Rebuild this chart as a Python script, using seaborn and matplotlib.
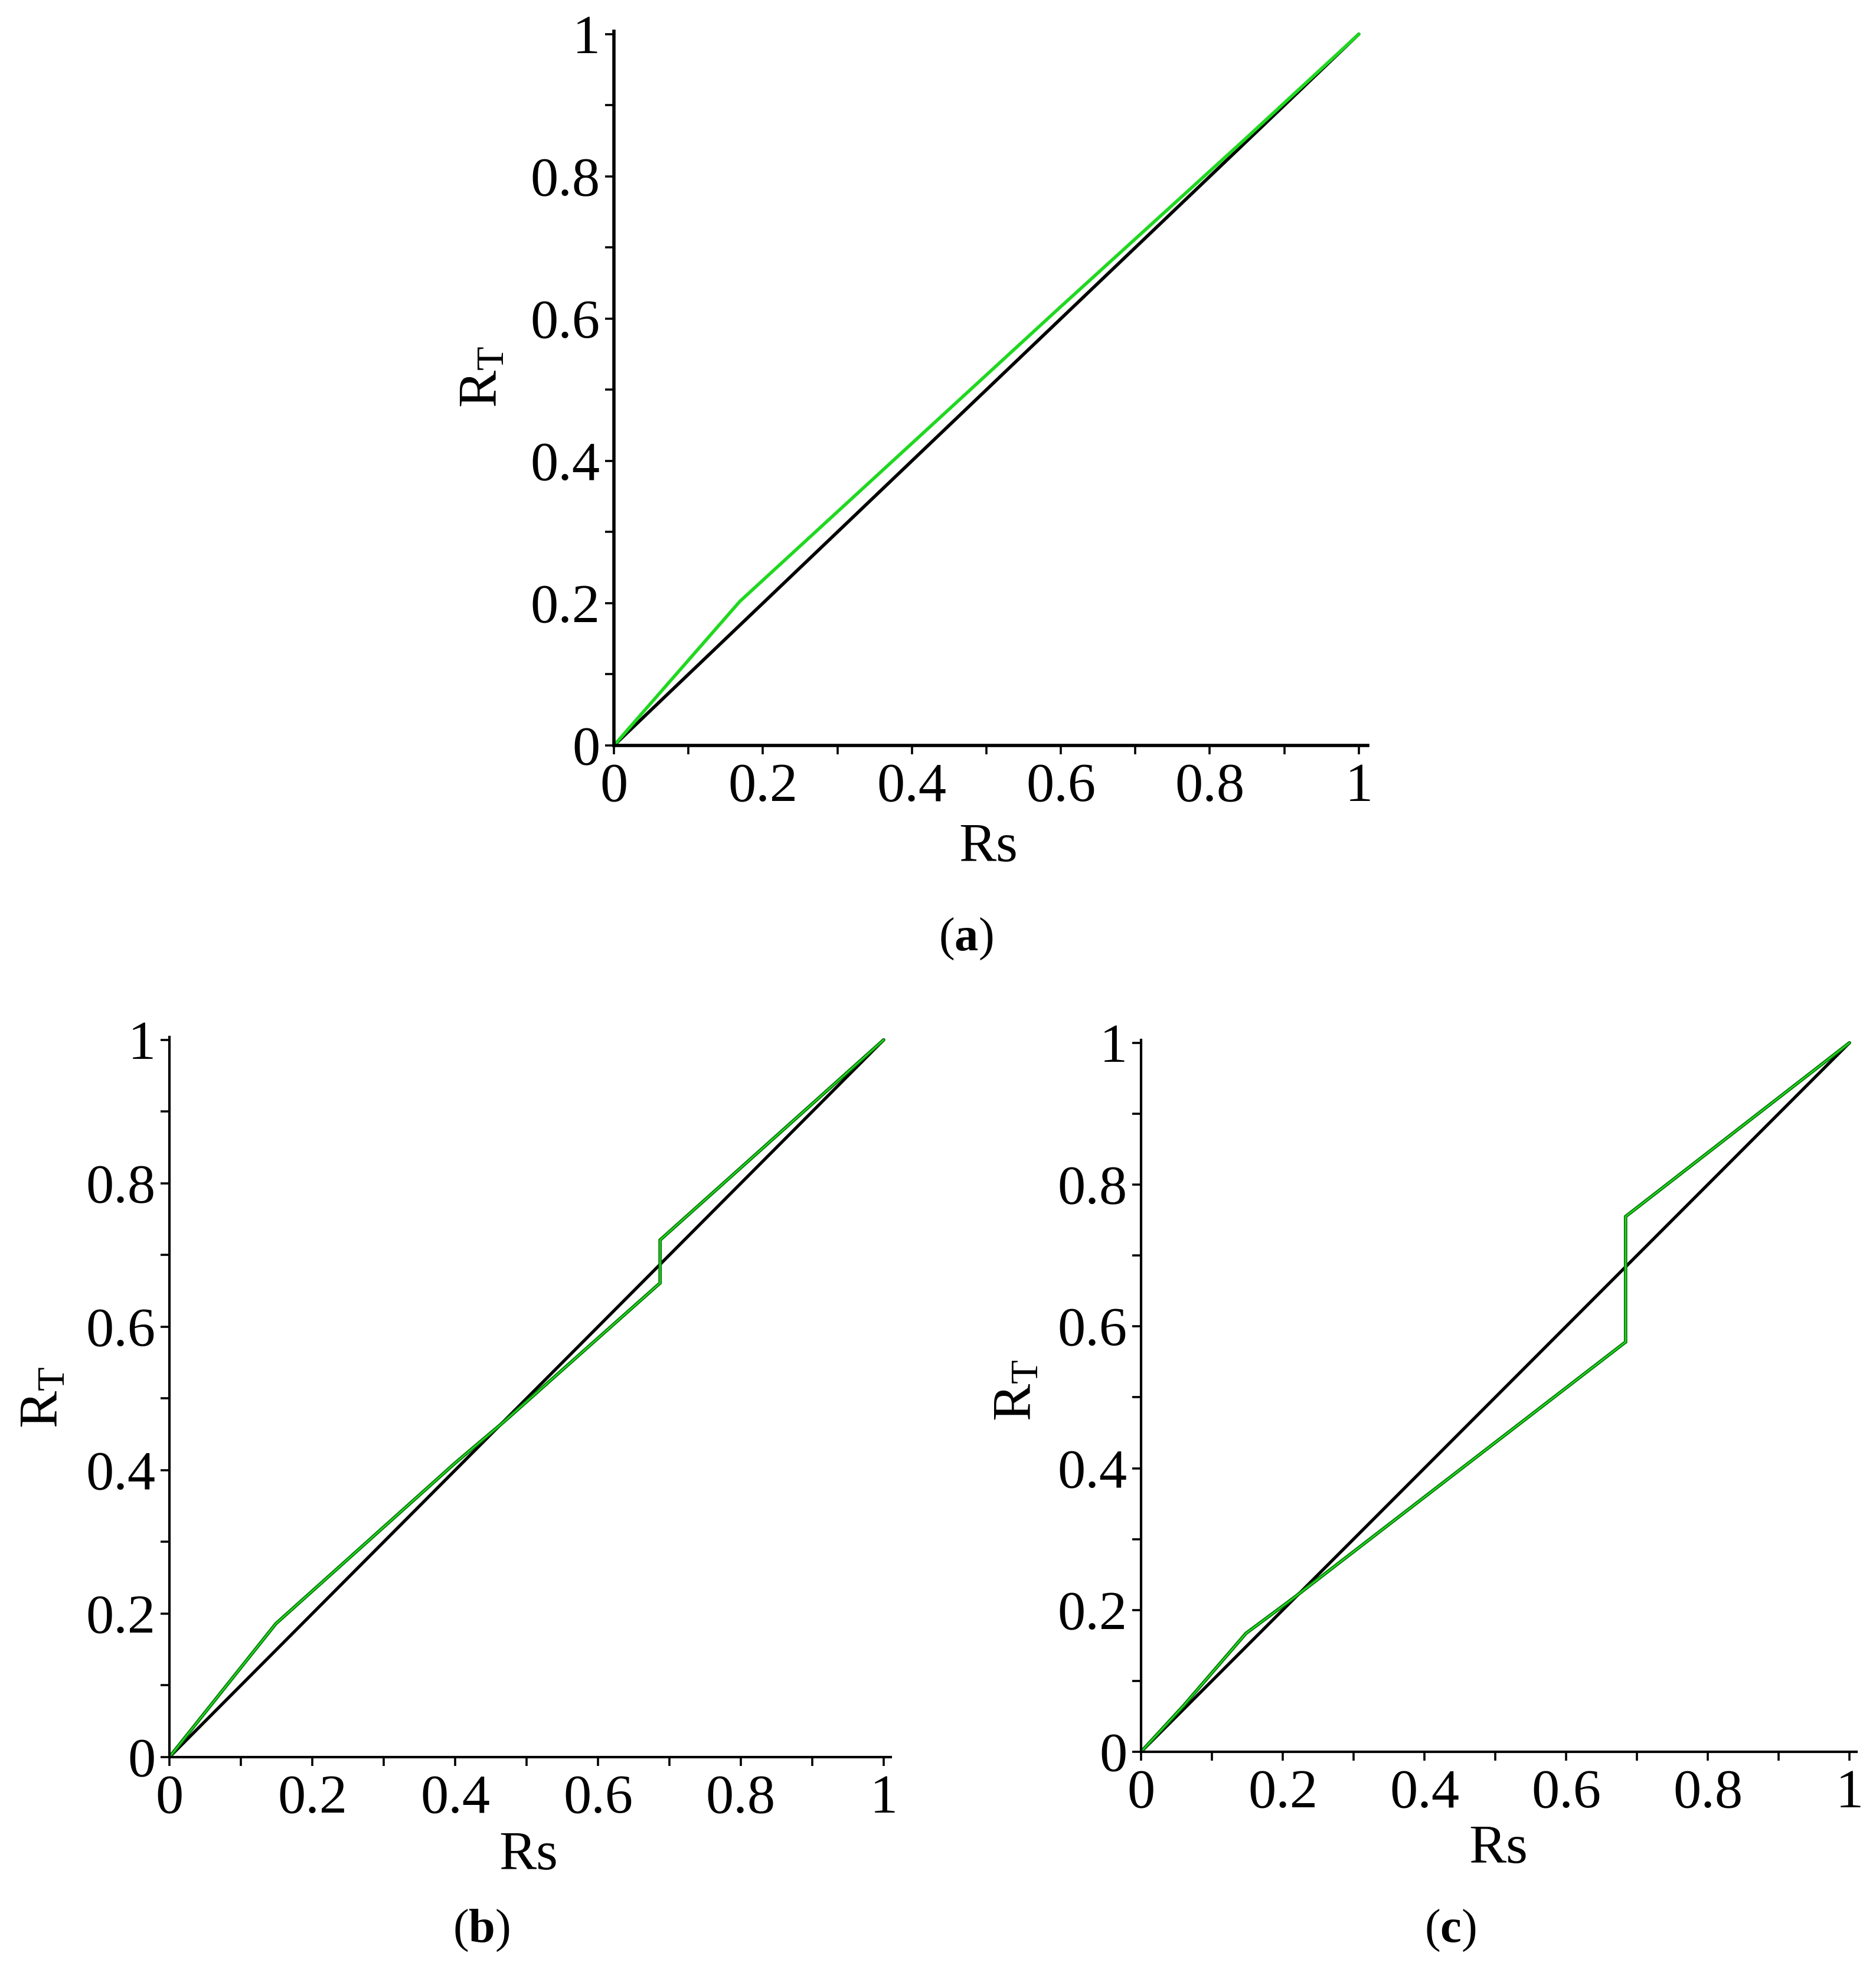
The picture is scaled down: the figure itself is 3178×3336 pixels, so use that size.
import numpy as np
import pandas as pd
import matplotlib
matplotlib.use("Agg")
import matplotlib.pyplot as plt
import seaborn as sns

# ---------------- data ----------------
diag_x = [0.0, 1.0]
diag_y = [0.0, 1.0]

a_x = [0.0, 0.169, 0.60, 0.85, 1.0]
a_y = [0.0, 0.2025, 0.617, 0.855, 1.0]

b_x = [0.0, 0.149, 0.40, 0.47, 0.687, 0.687, 1.0]
b_y = [0.0, 0.186, 0.410, 0.469, 0.661, 0.721, 1.0]

c_x = [0.0, 0.06, 0.148, 0.214, 0.684, 0.684, 1.0]
c_y = [0.0, 0.065, 0.167, 0.216, 0.578, 0.755, 1.0]

tick_vals = [0, 0.2, 0.4, 0.6, 0.8, 1]
tick_labels = ["0", "0.2", "0.4", "0.6", "0.8", "1"]
minor_vals = [0.1, 0.3, 0.5, 0.7, 0.9]

x_label = "Rs"
y_label = r"R$_\mathregular{T}$"
captions = [r"($\mathbf{a}$)", r"($\mathbf{b}$)", r"($\mathbf{c}$)"]

# ---------------- style ----------------
sns.set_style("ticks")
plt.rcParams["font.family"] = ["Liberation Serif", "DejaVu Serif"]
plt.rcParams["mathtext.fontset"] = "custom"
plt.rcParams["mathtext.rm"] = "Liberation Serif"
plt.rcParams["mathtext.it"] = "Liberation Serif:italic"
plt.rcParams["mathtext.bf"] = "Liberation Serif:bold"
plt.rcParams["text.color"] = "black"
plt.rcParams["axes.labelcolor"] = "black"
plt.rcParams["xtick.color"] = "black"
plt.rcParams["ytick.color"] = "black"
plt.rcParams["axes.edgecolor"] = "black"

W, H = 3178, 3336
fig = plt.figure(figsize=(W / 100, H / 100), dpi=100)

def px_axes(left, top, width, height):
    return fig.add_axes([left / W, 1 - (top + height) / H, width / W, height / H])

panels = [
    dict(rect=(1040, 53, 1277, 1210), xmax=1.012, ymax=1.004, gx=a_x, gy=a_y,
         xl=(0.4965, -0.143), yl=(-0.173, 0.5165), spw=4.0, lw=4.0, dual=False),
    dict(rect=(287, 1757, 1222, 1220), xmax=1.01, ymax=1.004, gx=b_x, gy=b_y,
         xl=(0.4975, -0.137), yl=(-0.174, 0.50), spw=3.0, lw=3.8, dual=True),
    dict(rect=(1933, 1762, 1212, 1206), xmax=1.01, ymax=1.004, gx=c_x, gy=c_y,
         xl=(0.499, -0.137), yl=(-0.173, 0.508), spw=3.0, lw=3.8, dual=True),
]

FS = 68
for p in panels:
    ax = px_axes(*p["rect"])
    sns.lineplot(x=diag_x, y=diag_y, ax=ax, color="black", lw=p["lw"],
                 sort=False, estimator=None, solid_capstyle="round")
    if p["dual"]:
        sns.lineplot(x=p["gx"], y=p["gy"], ax=ax, color="#0a7a0a", lw=p["lw"] + 0.4,
                     sort=False, estimator=None, solid_joinstyle="miter")
        sns.lineplot(x=p["gx"], y=p["gy"], ax=ax, color="#22e622", lw=1.4,
                     sort=False, estimator=None, solid_joinstyle="miter")
    else:
        sns.lineplot(x=p["gx"], y=p["gy"], ax=ax, color="#1fd81f", lw=p["lw"],
                     sort=False, estimator=None, solid_capstyle="round")
    ax.set_xlim(0, p["xmax"])
    ax.set_ylim(0, p["ymax"])
    sns.despine(ax=ax)
    for s in ("left", "bottom"):
        ax.spines[s].set_linewidth(p["spw"])
    ax.set_xticks(tick_vals)
    ax.set_xticklabels(tick_labels)
    ax.set_yticks(tick_vals)
    ax.set_yticklabels(tick_labels)
    ax.set_xticks(minor_vals, minor=True)
    ax.set_yticks(minor_vals, minor=True)
    ax.tick_params(which="both", direction="out", length=11, width=2.6, color="black",
                   labelcolor="black")
    ax.tick_params(axis="x", which="major", labelsize=FS, pad=10)
    ax.tick_params(axis="y", which="major", labelsize=FS, pad=6)
    ax.set_xlabel(x_label, fontsize=FS, color="black")
    ax.set_ylabel(y_label, fontsize=FS, color="black")
    ax.xaxis.set_label_coords(*p["xl"])
    ax.yaxis.set_label_coords(*p["yl"])
    ax.xaxis.label.set_va("center")
    ax.yaxis.label.set_va("center")
    ax.yaxis.label.set_ha("center")

cap_pos = [(1636, 1591), (815, 3271), (2457, 3271)]
for (cx, cy), txt in zip(cap_pos, captions):
    fig.text(cx / W, 1 - cy / H, txt, ha="center", va="center", fontsize=58,
             color="black")

fig.savefig("out.png", dpi=100, facecolor="white")
